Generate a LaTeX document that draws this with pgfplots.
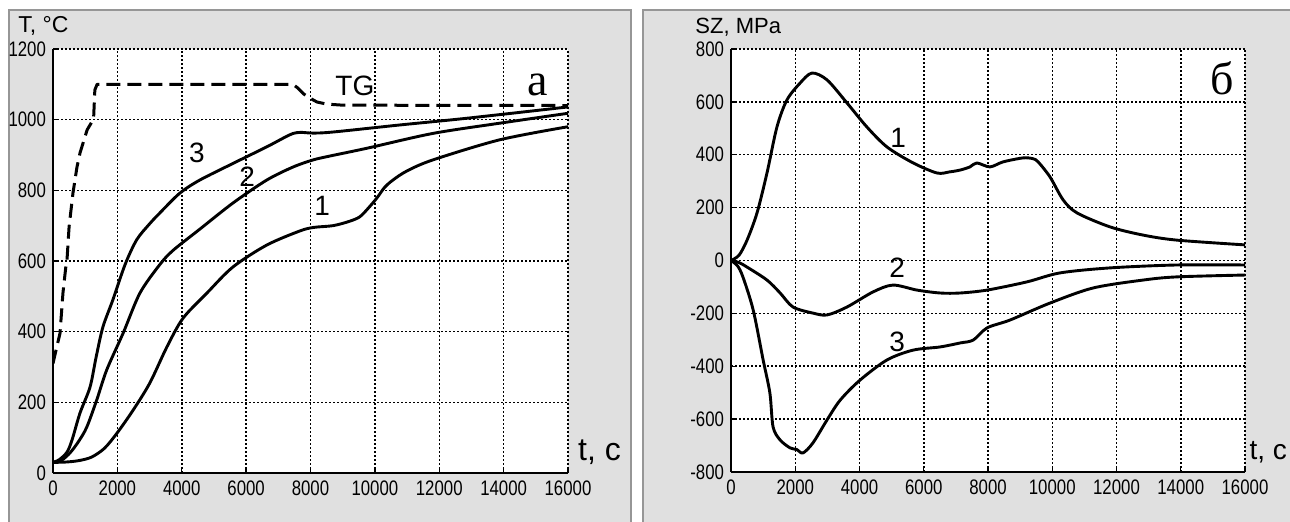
\documentclass[border=0pt]{standalone}
\usepackage{fontspec}
\setmainfont{Liberation Sans}
\newfontfamily\tickfont[FakeStretch=0.8]{Liberation Sans}
\newfontfamily\serifcyr{Liberation Serif}
\usepackage{pgfplots}
\pgfplotsset{compat=1.18}
\definecolor{panel}{RGB}{224,224,224}
\definecolor{frame}{RGB}{150,150,150}

\pgfplotsset{
  panelaxis/.style={
    scale only axis, anchor=south west, clip mode=individual,
    xmin=0, xmax=16000, xtick={0,2000,...,16000},
    axis x line*=bottom, axis y line*=left,
    axis line style={-, line width=1.1pt, black},
    tick align=inside, major tick length=2.5pt,
    tick style={black, line width=0.7pt},
    grid=major, grid style={black, line width=0.75pt, dash pattern=on 0.75pt off 1.25pt},
    axis background/.style={fill=white},
    tick label style={font=\tickfont\fontsize{10.5}{10.5}\selectfont},
    /pgf/number format/assume math mode=true,
    /pgf/number format/1000 sep={},
    scaled x ticks=false, scaled y ticks=false,
    xticklabel style={yshift=-0.5pt}, yticklabel style={xshift=0pt},
  },
  curve/.style={black, line width=1.45pt, smooth, tension=0.5, line join=round},
}
\newcommand{\lab}{\fontsize{14}{14}\selectfont}
\newcommand{\bigletter}{\serifcyr\fontsize{23}{23}\selectfont}

\begin{document}
\begin{tikzpicture}
% panels (image pixels scaled by 0.5pt)
\fill[white] (0,0) rectangle (645pt,261pt);
\filldraw[fill=panel, draw=frame, line width=0.6pt] (4.5pt,-1pt) rectangle (315.5pt,256pt);
\filldraw[fill=panel, draw=frame, line width=0.6pt] (321.5pt,-1pt) rectangle (646pt,256pt);

% left panel: temperature
\begin{axis}[panelaxis, at={(26.5pt,24.5pt)}, width=257.5pt, height=212pt,
  ymin=0, ymax=1200, ytick={0,200,...,1200}]
\addplot[black, line width=1.5pt, dash pattern=on 7pt off 3.5pt, line join=round] coordinates {
 (0,310)(100,350)(217,395)(310,510)(400,585)(435,603)(500,697)(620,792)(745,866)
 (840,906)(1060,971)(1210,994)(1260,1000)(1300,1084)(1370,1100)(7450,1100)
 (7600,1090)(7800,1072)(8000,1060)(8200,1050)(8500,1044)(9000,1041)(16000,1040)};
\addplot[curve] coordinates {
 (0,30)(200,38)(435,59)(590,93)(840,170)(1150,243)(1340,328)(1550,413)(1860,490)
 (2240,590)(2600,660)(3000,705)(3320,736)(3940,792)(4560,829)(5590,876)(6640,923)
 (7200,950)(7460,961)(7700,964)(8080,962)(8700,965)(10780,985)(12860,1004)(16000,1036)};
\addplot[curve] coordinates {
 (0,30)(250,35)(530,57)(800,90)(1050,130)(1360,207)(1670,292)(2180,396)(2700,509)
 (3320,590)(3730,630)(4560,690)(5590,764)(6640,829)(7460,866)(8080,886)(8600,897)
 (9750,919)(11800,961)(13880,990)(16000,1018)};
\addplot[curve] coordinates {
 (0,30)(400,31)(800,35)(1200,45)(1600,70)(1990,113)(2490,178)(3010,255)(3540,357)
 (4040,438)(4780,509)(5590,583)(6640,645)(7670,685)(8100,695)(8700,700)(9200,712)
 (9530,725)(9800,750)(10060,778)(10300,808)(10560,829)(11000,855)(11800,886)
 (13880,943)(16000,980)};
\node[font=\lab] at (axis cs:4470,906) {3};
\node[font=\lab] at (axis cs:6030,838) {2};
\node[font=\lab] at (axis cs:8360,756) {1};
\node[font=\lab] at (axis cs:9380,1095) {TG};
\node[font=\bigletter] at (axis cs:15070,1098) {a};
\node[anchor=west, font=\fontsize{11.5}{11.5}\selectfont, inner sep=0pt] at (rel axis cs:-0.068,1.054) {T, °C};
\node[anchor=west, font=\fontsize{16}{16}\selectfont, inner sep=0pt] at (rel axis cs:1.019,0.05) {t, c};
\end{axis}

% right panel: stress
\begin{axis}[panelaxis, at={(365.5pt,25pt)}, width=257pt, height=211.5pt,
  ymin=-800, ymax=800, ytick={-800,-600,...,800}]
\addplot[curve] coordinates {
 (0,0)(250,20)(500,77)(810,180)(1120,331)(1430,505)(1740,607)(2150,671)(2520,709)
 (2990,683)(3610,596)(4230,505)(4860,429)(5670,369)(6410,331)(6800,335)(7130,342)
 (7440,354)(7650,369)(8060,354)(8470,373)(9090,388)(9400,385)(9560,373)(9930,316)
 (10340,229)(10770,180)(11800,127)(12830,96)(13880,77)(16000,59)};
\addplot[curve] coordinates {
 (0,0)(250,-8)(500,-25)(1120,-74)(1530,-123)(1930,-176)(2550,-199)(2990,-206)
 (3610,-176)(4420,-119)(5040,-93)(5790,-112)(6510,-123)(7130,-123)(7970,-112)
 (9210,-81)(10240,-47)(11800,-28)(13880,-17)(16000,-17)};
\addplot[curve] coordinates {
 (0,0)(200,-20)(370,-62)(690,-187)(1000,-376)(1210,-501)(1310,-630)(1530,-679)
 (1840,-709)(2050,-715)(2240,-728)(2550,-690)(2990,-603)(3400,-528)(4020,-452)
 (4860,-376)(5670,-339)(6510,-327)(7130,-312)(7540,-301)(7970,-255)(8690,-225)
 (9930,-161)(11270,-104)(12830,-74)(13880,-62)(16000,-55)};
\node[font=\lab] at (axis cs:5200,463) {1};
\node[font=\lab] at (axis cs:5170,-28) {2};
\node[font=\lab] at (axis cs:5170,-308) {3};
\node[font=\bigletter] at (axis cs:15280,688) {б};
\node[anchor=west, font=\fontsize{11}{11}\selectfont, inner sep=0pt] at (rel axis cs:-0.070,1.052) {SZ, MPa};
\node[anchor=west, font=\fontsize{14}{14}\selectfont, inner sep=0pt] at (rel axis cs:1.008,0.047) {t, c};
\end{axis}
\pgfresetboundingbox
\useasboundingbox (0,0) rectangle (645pt,261pt);
\end{tikzpicture}
\end{document}
